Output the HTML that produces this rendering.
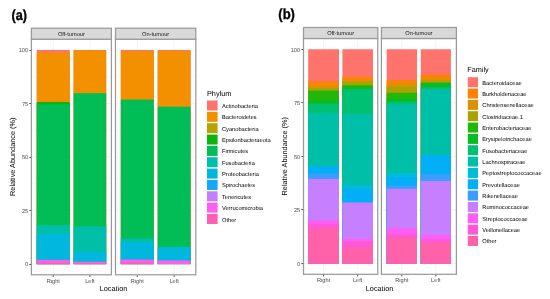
<!DOCTYPE html><html><head><meta charset="utf-8"><style>html,body{margin:0;padding:0;background:#fff;overflow:hidden}svg{display:block;will-change:transform}text{font-family:"Liberation Sans",sans-serif;text-rendering:geometricPrecision}</style></head><body>
<svg width="550" height="299" viewBox="0 0 550 299">
<rect width="550" height="299" fill="#fff"/>
<rect x="31.4" y="39.2" width="80.00" height="235.60" fill="#fff"/>
<line x1="31.4" x2="111.4" y1="264.00" y2="264.00" stroke="#ebebeb" stroke-width="0.6"/>
<line x1="31.4" x2="111.4" y1="210.50" y2="210.50" stroke="#ebebeb" stroke-width="0.6"/>
<line x1="31.4" x2="111.4" y1="157.00" y2="157.00" stroke="#ebebeb" stroke-width="0.6"/>
<line x1="31.4" x2="111.4" y1="103.50" y2="103.50" stroke="#ebebeb" stroke-width="0.6"/>
<line x1="31.4" x2="111.4" y1="50.00" y2="50.00" stroke="#ebebeb" stroke-width="0.6"/>
<line x1="31.4" x2="111.4" y1="237.25" y2="237.25" stroke="#ebebeb" stroke-width="0.3"/>
<line x1="31.4" x2="111.4" y1="183.75" y2="183.75" stroke="#ebebeb" stroke-width="0.3"/>
<line x1="31.4" x2="111.4" y1="130.25" y2="130.25" stroke="#ebebeb" stroke-width="0.3"/>
<line x1="31.4" x2="111.4" y1="76.75" y2="76.75" stroke="#ebebeb" stroke-width="0.3"/>
<line x1="53.27" x2="53.27" y1="39.2" y2="274.8" stroke="#ebebeb" stroke-width="0.6"/>
<line x1="89.90" x2="89.90" y1="39.2" y2="274.8" stroke="#ebebeb" stroke-width="0.6"/>
<rect x="36.75" y="50.0" width="33.05" height="214.10" fill="#FF736D"/>
<rect x="36.75" y="52.6" width="33.05" height="211.50" fill="#F29000"/>
<rect x="36.75" y="102" width="33.05" height="162.10" fill="#0CB40C"/>
<rect x="36.75" y="104.2" width="33.05" height="159.90" fill="#00BD55"/>
<rect x="36.75" y="225.1" width="33.05" height="39.00" fill="#00BFA8"/>
<rect x="36.75" y="234" width="33.05" height="30.10" fill="#00B8DE"/>
<rect x="36.75" y="259.9" width="33.05" height="4.20" fill="#FF5EF0"/>
<rect x="36.75" y="262.8" width="33.05" height="1.30" fill="#FF5FB0"/>
<rect x="73.6" y="50.0" width="32.60" height="214.10" fill="#FF736D"/>
<rect x="73.6" y="50.5" width="32.60" height="213.60" fill="#F29000"/>
<rect x="73.6" y="93.2" width="32.60" height="170.90" fill="#00BD55"/>
<rect x="73.6" y="226.4" width="32.60" height="37.70" fill="#00BFA8"/>
<rect x="73.6" y="251.8" width="32.60" height="12.30" fill="#00B8DE"/>
<rect x="73.6" y="261.8" width="32.60" height="2.30" fill="#FF5EF0"/>
<rect x="73.6" y="263" width="32.60" height="1.10" fill="#FF5FB0"/>
<rect x="31.4" y="39.2" width="80.00" height="235.60" fill="none" stroke="#9a9a9a" stroke-width="1.25"/>
<rect x="31.4" y="28.2" width="80.00" height="11.00" fill="#d9d9d9" stroke="#9a9a9a" stroke-width="1.25"/>
<text x="71.40" y="35.70" font-size="5.68" fill="#1a1a1a" text-anchor="middle">Off-tumour</text>
<rect x="115.5" y="39.2" width="80.30" height="235.60" fill="#fff"/>
<line x1="115.5" x2="195.8" y1="264.00" y2="264.00" stroke="#ebebeb" stroke-width="0.6"/>
<line x1="115.5" x2="195.8" y1="210.50" y2="210.50" stroke="#ebebeb" stroke-width="0.6"/>
<line x1="115.5" x2="195.8" y1="157.00" y2="157.00" stroke="#ebebeb" stroke-width="0.6"/>
<line x1="115.5" x2="195.8" y1="103.50" y2="103.50" stroke="#ebebeb" stroke-width="0.6"/>
<line x1="115.5" x2="195.8" y1="50.00" y2="50.00" stroke="#ebebeb" stroke-width="0.6"/>
<line x1="115.5" x2="195.8" y1="237.25" y2="237.25" stroke="#ebebeb" stroke-width="0.3"/>
<line x1="115.5" x2="195.8" y1="183.75" y2="183.75" stroke="#ebebeb" stroke-width="0.3"/>
<line x1="115.5" x2="195.8" y1="130.25" y2="130.25" stroke="#ebebeb" stroke-width="0.3"/>
<line x1="115.5" x2="195.8" y1="76.75" y2="76.75" stroke="#ebebeb" stroke-width="0.3"/>
<line x1="137.30" x2="137.30" y1="39.2" y2="274.8" stroke="#ebebeb" stroke-width="0.6"/>
<line x1="174.15" x2="174.15" y1="39.2" y2="274.8" stroke="#ebebeb" stroke-width="0.6"/>
<rect x="120.8" y="50.0" width="33.00" height="214.10" fill="#FF736D"/>
<rect x="120.8" y="51.2" width="33.00" height="212.90" fill="#F29000"/>
<rect x="120.8" y="99.6" width="33.00" height="164.50" fill="#00BD55"/>
<rect x="120.8" y="238.6" width="33.00" height="25.50" fill="#00BFA8"/>
<rect x="120.8" y="242" width="33.00" height="22.10" fill="#00B8DE"/>
<rect x="120.8" y="259.6" width="33.00" height="4.50" fill="#FF5EF0"/>
<rect x="120.8" y="262.7" width="33.00" height="1.40" fill="#FF5FB0"/>
<rect x="157.7" y="50.0" width="32.90" height="214.10" fill="#FF736D"/>
<rect x="157.7" y="50.9" width="32.90" height="213.20" fill="#F29000"/>
<rect x="157.7" y="106.7" width="32.90" height="157.40" fill="#00BD55"/>
<rect x="157.7" y="247" width="32.90" height="17.10" fill="#00B8DE"/>
<rect x="157.7" y="260.5" width="32.90" height="3.60" fill="#FF5EF0"/>
<rect x="115.5" y="39.2" width="80.30" height="235.60" fill="none" stroke="#9a9a9a" stroke-width="1.25"/>
<rect x="115.5" y="28.2" width="80.30" height="11.00" fill="#d9d9d9" stroke="#9a9a9a" stroke-width="1.25"/>
<text x="155.65" y="35.70" font-size="5.68" fill="#1a1a1a" text-anchor="middle">On-tumour</text>
<line x1="29.3" x2="31.0" y1="264.50" y2="264.50" stroke="#555555" stroke-width="1"/>
<text x="28.2" y="266.40" font-size="5.68" fill="#4d4d4d" text-anchor="end">0</text>
<line x1="29.3" x2="31.0" y1="210.50" y2="210.50" stroke="#555555" stroke-width="1"/>
<text x="28.2" y="212.90" font-size="5.68" fill="#4d4d4d" text-anchor="end">25</text>
<line x1="29.3" x2="31.0" y1="157.50" y2="157.50" stroke="#555555" stroke-width="1"/>
<text x="28.2" y="159.40" font-size="5.68" fill="#4d4d4d" text-anchor="end">50</text>
<line x1="29.3" x2="31.0" y1="103.50" y2="103.50" stroke="#555555" stroke-width="1"/>
<text x="28.2" y="105.90" font-size="5.68" fill="#4d4d4d" text-anchor="end">75</text>
<line x1="29.3" x2="31.0" y1="50.50" y2="50.50" stroke="#555555" stroke-width="1"/>
<text x="28.2" y="52.40" font-size="5.68" fill="#4d4d4d" text-anchor="end">100</text>
<line x1="53.27" x2="53.27"  y1="275.3" y2="277.0" stroke="#555555" stroke-width="1"/>
<text x="53.27" y="282.5" font-size="5.68" fill="#4d4d4d" text-anchor="middle">Right</text>
<line x1="89.90" x2="89.90"  y1="275.3" y2="277.0" stroke="#555555" stroke-width="1"/>
<text x="89.90" y="282.5" font-size="5.68" fill="#4d4d4d" text-anchor="middle">Left</text>
<line x1="137.30" x2="137.30"  y1="275.3" y2="277.0" stroke="#555555" stroke-width="1"/>
<text x="137.30" y="282.5" font-size="5.68" fill="#4d4d4d" text-anchor="middle">Right</text>
<line x1="174.15" x2="174.15"  y1="275.3" y2="277.0" stroke="#555555" stroke-width="1"/>
<text x="174.15" y="282.5" font-size="5.68" fill="#4d4d4d" text-anchor="middle">Left</text>
<text x="113.5" y="291.3" font-size="7.3" fill="#000" text-anchor="middle">Location</text>
<text transform="translate(15.3,156.8) rotate(-90)" font-size="7.3" fill="#000" text-anchor="middle">Relative Abundance (%)</text>
<text transform="translate(11.5,19.5) scale(0.875,1)" font-size="14.5" font-weight="bold" fill="#000" stroke="#000" stroke-width="0.35">(a)</text>
<text x="207" y="95.5" font-size="7.3" fill="#000">Phylum</text>
<rect x="207" y="100.50" width="10.6" height="10" fill="#FF736D"/>
<text x="222" y="108.00" font-size="5.68" fill="#000">Actinobacteria</text>
<rect x="207" y="111.85" width="10.6" height="10" fill="#F29000"/>
<text x="222" y="119.35" font-size="5.68" fill="#000">Bacteroidetes</text>
<rect x="207" y="123.20" width="10.6" height="10" fill="#B5A300"/>
<text x="222" y="130.70" font-size="5.68" fill="#000">Cyanobacteria</text>
<rect x="207" y="134.55" width="10.6" height="10" fill="#0CB40C"/>
<text x="222" y="142.05" font-size="5.68" fill="#000">Epsilonbacteraeota</text>
<rect x="207" y="145.90" width="10.6" height="10" fill="#00BD55"/>
<text x="222" y="153.40" font-size="5.68" fill="#000">Firmicutes</text>
<rect x="207" y="157.25" width="10.6" height="10" fill="#00BFA8"/>
<text x="222" y="164.75" font-size="5.68" fill="#000">Fusobacteria</text>
<rect x="207" y="168.60" width="10.6" height="10" fill="#00B8DE"/>
<text x="222" y="176.10" font-size="5.68" fill="#000">Proteobacteria</text>
<rect x="207" y="179.95" width="10.6" height="10" fill="#14A8FA"/>
<text x="222" y="187.45" font-size="5.68" fill="#000">Spirochaetes</text>
<rect x="207" y="191.30" width="10.6" height="10" fill="#C27EFF"/>
<text x="222" y="198.80" font-size="5.68" fill="#000">Tenericutes</text>
<rect x="207" y="202.65" width="10.6" height="10" fill="#FF5EF0"/>
<text x="222" y="210.15" font-size="5.68" fill="#000">Verrucomicrobia</text>
<rect x="207" y="214.00" width="10.6" height="10" fill="#FF5FB0"/>
<text x="222" y="221.50" font-size="5.68" fill="#000">Other</text>
<rect x="303.5" y="38.5" width="74.30" height="235.80" fill="#fff"/>
<line x1="303.5" x2="377.8" y1="263.50" y2="263.50" stroke="#ebebeb" stroke-width="0.6"/>
<line x1="303.5" x2="377.8" y1="209.95" y2="209.95" stroke="#ebebeb" stroke-width="0.6"/>
<line x1="303.5" x2="377.8" y1="156.40" y2="156.40" stroke="#ebebeb" stroke-width="0.6"/>
<line x1="303.5" x2="377.8" y1="102.85" y2="102.85" stroke="#ebebeb" stroke-width="0.6"/>
<line x1="303.5" x2="377.8" y1="49.30" y2="49.30" stroke="#ebebeb" stroke-width="0.6"/>
<line x1="303.5" x2="377.8" y1="236.72" y2="236.72" stroke="#ebebeb" stroke-width="0.3"/>
<line x1="303.5" x2="377.8" y1="183.18" y2="183.18" stroke="#ebebeb" stroke-width="0.3"/>
<line x1="303.5" x2="377.8" y1="129.62" y2="129.62" stroke="#ebebeb" stroke-width="0.3"/>
<line x1="303.5" x2="377.8" y1="76.07" y2="76.07" stroke="#ebebeb" stroke-width="0.3"/>
<line x1="323.60" x2="323.60" y1="38.5" y2="274.3" stroke="#ebebeb" stroke-width="0.6"/>
<line x1="357.70" x2="357.70" y1="38.5" y2="274.3" stroke="#ebebeb" stroke-width="0.6"/>
<rect x="308.2" y="49.3" width="30.80" height="214.20" fill="#FF736D"/>
<rect x="308.2" y="81.3" width="30.80" height="182.20" fill="#FF8200"/>
<rect x="308.2" y="85.4" width="30.80" height="178.10" fill="#D79400"/>
<rect x="308.2" y="88" width="30.80" height="175.50" fill="#A8A300"/>
<rect x="308.2" y="90.7" width="30.80" height="172.80" fill="#22B80A"/>
<rect x="308.2" y="100.5" width="30.80" height="163.00" fill="#08BC22"/>
<rect x="308.2" y="103.6" width="30.80" height="159.90" fill="#00C074"/>
<rect x="308.2" y="113" width="30.80" height="150.50" fill="#00BFA8"/>
<rect x="308.2" y="165.9" width="30.80" height="97.60" fill="#00BCD8"/>
<rect x="308.2" y="166.4" width="30.80" height="97.10" fill="#00AFF6"/>
<rect x="308.2" y="173.6" width="30.80" height="89.90" fill="#3C9CFF"/>
<rect x="308.2" y="178.9" width="30.80" height="84.60" fill="#C680FF"/>
<rect x="308.2" y="220.3" width="30.80" height="43.20" fill="#FF5EF5"/>
<rect x="308.2" y="223.9" width="30.80" height="39.60" fill="#FF58D6"/>
<rect x="308.2" y="228.8" width="30.80" height="34.70" fill="#FF62A8"/>
<rect x="342.4" y="49.3" width="30.60" height="214.20" fill="#FF736D"/>
<rect x="342.4" y="76.9" width="30.60" height="186.60" fill="#FF8200"/>
<rect x="342.4" y="80.8" width="30.60" height="182.70" fill="#D79400"/>
<rect x="342.4" y="81.3" width="30.60" height="182.20" fill="#A8A300"/>
<rect x="342.4" y="85.2" width="30.60" height="178.30" fill="#22B80A"/>
<rect x="342.4" y="87.5" width="30.60" height="176.00" fill="#08BC22"/>
<rect x="342.4" y="88.9" width="30.60" height="174.60" fill="#00C074"/>
<rect x="342.4" y="114.1" width="30.60" height="149.40" fill="#00BFA8"/>
<rect x="342.4" y="184.6" width="30.60" height="78.90" fill="#00BCD8"/>
<rect x="342.4" y="189" width="30.60" height="74.50" fill="#00AFF6"/>
<rect x="342.4" y="202.4" width="30.60" height="61.10" fill="#C680FF"/>
<rect x="342.4" y="239.0" width="30.60" height="24.50" fill="#FF5EF5"/>
<rect x="342.4" y="241.2" width="30.60" height="22.30" fill="#FF58D6"/>
<rect x="342.4" y="247.6" width="30.60" height="15.90" fill="#FF62A8"/>
<rect x="303.5" y="38.5" width="74.30" height="235.80" fill="none" stroke="#9a9a9a" stroke-width="1.25"/>
<rect x="303.5" y="27.5" width="74.30" height="11.00" fill="#d9d9d9" stroke="#9a9a9a" stroke-width="1.25"/>
<text x="340.65" y="35.00" font-size="5.68" fill="#1a1a1a" text-anchor="middle">Off-tumour</text>
<rect x="381.4" y="38.5" width="75.00" height="235.80" fill="#fff"/>
<line x1="381.4" x2="456.4" y1="263.50" y2="263.50" stroke="#ebebeb" stroke-width="0.6"/>
<line x1="381.4" x2="456.4" y1="209.95" y2="209.95" stroke="#ebebeb" stroke-width="0.6"/>
<line x1="381.4" x2="456.4" y1="156.40" y2="156.40" stroke="#ebebeb" stroke-width="0.6"/>
<line x1="381.4" x2="456.4" y1="102.85" y2="102.85" stroke="#ebebeb" stroke-width="0.6"/>
<line x1="381.4" x2="456.4" y1="49.30" y2="49.30" stroke="#ebebeb" stroke-width="0.6"/>
<line x1="381.4" x2="456.4" y1="236.72" y2="236.72" stroke="#ebebeb" stroke-width="0.3"/>
<line x1="381.4" x2="456.4" y1="183.18" y2="183.18" stroke="#ebebeb" stroke-width="0.3"/>
<line x1="381.4" x2="456.4" y1="129.62" y2="129.62" stroke="#ebebeb" stroke-width="0.3"/>
<line x1="381.4" x2="456.4" y1="76.07" y2="76.07" stroke="#ebebeb" stroke-width="0.3"/>
<line x1="401.85" x2="401.85" y1="38.5" y2="274.3" stroke="#ebebeb" stroke-width="0.6"/>
<line x1="435.85" x2="435.85" y1="38.5" y2="274.3" stroke="#ebebeb" stroke-width="0.6"/>
<rect x="386.7" y="49.3" width="30.30" height="214.20" fill="#FF736D"/>
<rect x="386.7" y="80.1" width="30.30" height="183.40" fill="#FF8200"/>
<rect x="386.7" y="83.4" width="30.30" height="180.10" fill="#D79400"/>
<rect x="386.7" y="87" width="30.30" height="176.50" fill="#A8A300"/>
<rect x="386.7" y="92.8" width="30.30" height="170.70" fill="#22B80A"/>
<rect x="386.7" y="98.5" width="30.30" height="165.00" fill="#08BC22"/>
<rect x="386.7" y="101.7" width="30.30" height="161.80" fill="#00C074"/>
<rect x="386.7" y="104.5" width="30.30" height="159.00" fill="#00BFA8"/>
<rect x="386.7" y="172.7" width="30.30" height="90.80" fill="#00BCD8"/>
<rect x="386.7" y="176.7" width="30.30" height="86.80" fill="#00AFF6"/>
<rect x="386.7" y="185.4" width="30.30" height="78.10" fill="#3C9CFF"/>
<rect x="386.7" y="188.8" width="30.30" height="74.70" fill="#C680FF"/>
<rect x="386.7" y="227.9" width="30.30" height="35.60" fill="#FF5EF5"/>
<rect x="386.7" y="234.4" width="30.30" height="29.10" fill="#FF58D6"/>
<rect x="386.7" y="237.7" width="30.30" height="25.80" fill="#FF62A8"/>
<rect x="420.8" y="49.3" width="30.10" height="214.20" fill="#FF736D"/>
<rect x="420.8" y="74.7" width="30.10" height="188.80" fill="#FF8200"/>
<rect x="420.8" y="78.7" width="30.10" height="184.80" fill="#D79400"/>
<rect x="420.8" y="80.7" width="30.10" height="182.80" fill="#A8A300"/>
<rect x="420.8" y="82.7" width="30.10" height="180.80" fill="#08BC22"/>
<rect x="420.8" y="87.4" width="30.10" height="176.10" fill="#00C074"/>
<rect x="420.8" y="88.8" width="30.10" height="174.70" fill="#00BFA8"/>
<rect x="420.8" y="155.1" width="30.10" height="108.40" fill="#00AFF6"/>
<rect x="420.8" y="174.1" width="30.10" height="89.40" fill="#3C9CFF"/>
<rect x="420.8" y="181" width="30.10" height="82.50" fill="#C680FF"/>
<rect x="420.8" y="234.8" width="30.10" height="28.70" fill="#FF5EF5"/>
<rect x="420.8" y="239.4" width="30.10" height="24.10" fill="#FF58D6"/>
<rect x="420.8" y="242.3" width="30.10" height="21.20" fill="#FF62A8"/>
<rect x="381.4" y="38.5" width="75.00" height="235.80" fill="none" stroke="#9a9a9a" stroke-width="1.25"/>
<rect x="381.4" y="27.5" width="75.00" height="11.00" fill="#d9d9d9" stroke="#9a9a9a" stroke-width="1.25"/>
<text x="418.90" y="35.00" font-size="5.68" fill="#1a1a1a" text-anchor="middle">On-tumour</text>
<line x1="301.3" x2="303.0" y1="263.50" y2="263.50" stroke="#555555" stroke-width="1"/>
<text x="300.2" y="265.90" font-size="5.68" fill="#4d4d4d" text-anchor="end">0</text>
<line x1="301.3" x2="303.0" y1="209.50" y2="209.50" stroke="#555555" stroke-width="1"/>
<text x="300.2" y="212.35" font-size="5.68" fill="#4d4d4d" text-anchor="end">25</text>
<line x1="301.3" x2="303.0" y1="156.50" y2="156.50" stroke="#555555" stroke-width="1"/>
<text x="300.2" y="158.80" font-size="5.68" fill="#4d4d4d" text-anchor="end">50</text>
<line x1="301.3" x2="303.0" y1="102.50" y2="102.50" stroke="#555555" stroke-width="1"/>
<text x="300.2" y="105.25" font-size="5.68" fill="#4d4d4d" text-anchor="end">75</text>
<line x1="301.3" x2="303.0" y1="49.50" y2="49.50" stroke="#555555" stroke-width="1"/>
<text x="300.2" y="51.70" font-size="5.68" fill="#4d4d4d" text-anchor="end">100</text>
<line x1="323.60" x2="323.60" y1="274.8" y2="276.5" stroke="#555555" stroke-width="1"/>
<text x="323.60" y="281.7" font-size="5.68" fill="#4d4d4d" text-anchor="middle">Right</text>
<line x1="357.70" x2="357.70" y1="274.8" y2="276.5" stroke="#555555" stroke-width="1"/>
<text x="357.70" y="281.7" font-size="5.68" fill="#4d4d4d" text-anchor="middle">Left</text>
<line x1="401.85" x2="401.85" y1="274.8" y2="276.5" stroke="#555555" stroke-width="1"/>
<text x="401.85" y="281.7" font-size="5.68" fill="#4d4d4d" text-anchor="middle">Right</text>
<line x1="435.85" x2="435.85" y1="274.8" y2="276.5" stroke="#555555" stroke-width="1"/>
<text x="435.85" y="281.7" font-size="5.68" fill="#4d4d4d" text-anchor="middle">Left</text>
<text x="379.6" y="290.8" font-size="7.3" fill="#000" text-anchor="middle">Location</text>
<text transform="translate(287.2,156.3) rotate(-90)" font-size="7.3" fill="#000" text-anchor="middle">Relative Abundance (%)</text>
<text transform="translate(278.3,19.1) scale(0.90,1)" font-size="14.5" font-weight="bold" fill="#000" stroke="#000" stroke-width="0.35">(b)</text>
<text x="467.2" y="72" font-size="7.3" fill="#000">Family</text>
<rect x="467.8" y="77.20" width="10.2" height="10" fill="#FF736D"/>
<text x="482.3" y="84.70" font-size="5.68" fill="#000">Bacteroidaceae</text>
<rect x="467.8" y="88.54" width="10.2" height="10" fill="#FF8200"/>
<text x="482.3" y="96.04" font-size="5.68" fill="#000">Burkholderiaceae</text>
<rect x="467.8" y="99.88" width="10.2" height="10" fill="#D79400"/>
<text x="482.3" y="107.38" font-size="5.68" fill="#000">Christensenellaceae</text>
<rect x="467.8" y="111.22" width="10.2" height="10" fill="#A8A300"/>
<text x="482.3" y="118.72" font-size="5.68" fill="#000">Clostridiaceae.1</text>
<rect x="467.8" y="122.56" width="10.2" height="10" fill="#22B80A"/>
<text x="482.3" y="130.06" font-size="5.68" fill="#000">Enterobacteriaceae</text>
<rect x="467.8" y="133.90" width="10.2" height="10" fill="#08BC22"/>
<text x="482.3" y="141.40" font-size="5.68" fill="#000">Erysipelotrichaceae</text>
<rect x="467.8" y="145.24" width="10.2" height="10" fill="#00C074"/>
<text x="482.3" y="152.74" font-size="5.68" fill="#000">Fusobacteriaceae</text>
<rect x="467.8" y="156.58" width="10.2" height="10" fill="#00BFA8"/>
<text x="482.3" y="164.08" font-size="5.68" fill="#000">Lachnospiraceae</text>
<rect x="467.8" y="167.92" width="10.2" height="10" fill="#00BCD8"/>
<text x="482.3" y="175.42" font-size="5.68" fill="#000">Peptostreptococcaceae</text>
<rect x="467.8" y="179.26" width="10.2" height="10" fill="#00AFF6"/>
<text x="482.3" y="186.76" font-size="5.68" fill="#000">Prevotellaceae</text>
<rect x="467.8" y="190.60" width="10.2" height="10" fill="#3C9CFF"/>
<text x="482.3" y="198.10" font-size="5.68" fill="#000">Rikenellaceae</text>
<rect x="467.8" y="201.94" width="10.2" height="10" fill="#C680FF"/>
<text x="482.3" y="209.44" font-size="5.68" fill="#000">Ruminococcaceae</text>
<rect x="467.8" y="213.28" width="10.2" height="10" fill="#FF5EF5"/>
<text x="482.3" y="220.78" font-size="5.68" fill="#000">Streptococcaceae</text>
<rect x="467.8" y="224.62" width="10.2" height="10" fill="#FF58D6"/>
<text x="482.3" y="232.12" font-size="5.68" fill="#000">Veillonellaceae</text>
<rect x="467.8" y="235.96" width="10.2" height="10" fill="#FF62A8"/>
<text x="482.3" y="243.46" font-size="5.68" fill="#000">Other</text>
</svg></body></html>
